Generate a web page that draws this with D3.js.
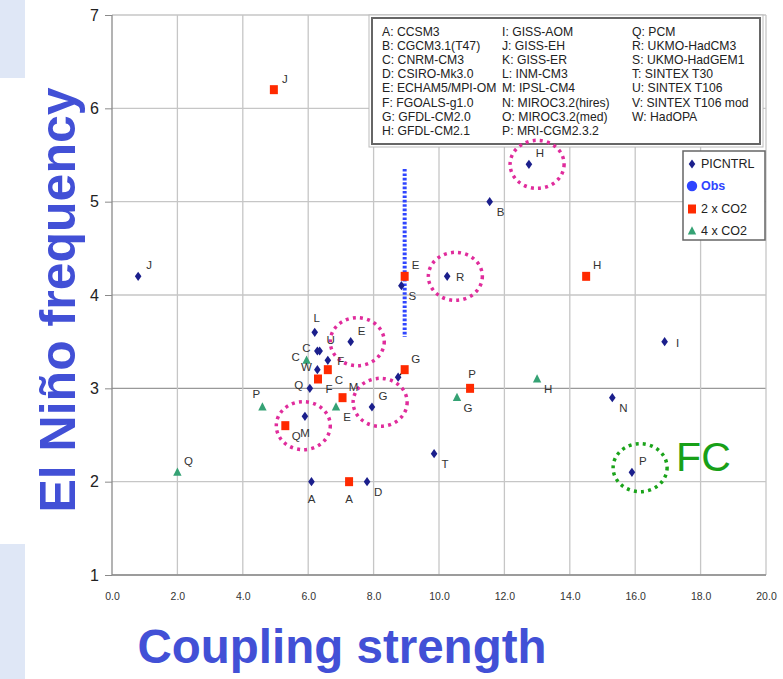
<!DOCTYPE html>
<html lang="en">
<head>
<meta charset="UTF-8">
<title>El Niño frequency vs coupling strength</title>
<script src="https://cdn.jsdelivr.net/npm/d3@7"></script>
<style>
  body { margin: 0; background: #fff; }
  svg { display: block; font-family: "Liberation Sans", Arial, sans-serif; }
</style>
</head>
<body>
<script>
// PICNTRL runs (blue diamonds)
const ctrlLabels = ["J","H","B","S","R","I","N","P","T","D","A","L","C","U","F","W","Q","E","M","G",""];
const ctrlX = [0.8,12.75,11.55,8.85,10.25,16.9,15.3,15.9,9.85,7.8,6.1,6.2,6.28,6.35,6.6,6.28,6.05,7.3,5.9,7.95,8.75];
const ctrlY = [4.2,5.4,5.0,4.1,4.2,3.5,2.9,2.1,2.3,2.0,2.0,3.6,3.4,3.4,3.3,3.2,3.0,3.5,2.7,2.8,3.12];
const ctrlLabelAt = ["ne","ne","se","se","e","e","se","ne","se","se","s","n","w","ne","e","w","w","ne","s","ne",""];

// 2 x CO2 runs (red squares)
const co2Labels = ["J","H","E","G","P","C","F","M","Q","A"];
const co2X = [4.95,14.5,8.95,8.95,10.95,6.6,6.3,7.05,5.3,7.25];
const co2Y = [6.2,4.2,4.2,3.2,3.0,3.2,3.1,2.9,2.6,2.0];
const co2LabelAt = ["ne","ne","ne","ne","n","se","se","ne","se","s"];

// 4 x CO2 runs (green triangles)
const co4Labels = ["Q","P","C","E","G","H"];
const co4X = [2.0,4.6,5.95,6.85,10.55,13.0];
const co4Y = [2.1,2.8,3.3,2.8,2.9,3.1];
const co4LabelAt = ["ne","nw","w","se","se","se"];

// observed range
const obsX = 8.95;
const obsRange = [3.55, 5.35];

// circled models
const ringX = [13.0, 10.5, 7.5, 8.2, 5.85];
const ringY = [5.4, 4.2, 3.5, 2.85, 2.6];
const fcRing = [16.15, 2.15];

const yTicks = [1,2,3,4,5,6,7];
const xTicks = [0,2,4,6,8,10,12,14,16,18,20];

const modelKey = [
  ["A: CCSM3","B: CGCM3.1(T47)","C: CNRM-CM3","D: CSIRO-Mk3.0","E: ECHAM5/MPI-OM","F: FGOALS-g1.0","G: GFDL-CM2.0","H: GFDL-CM2.1"],
  ["I: GISS-AOM","J: GISS-EH","K: GISS-ER","L: INM-CM3","M: IPSL-CM4","N: MIROC3.2(hires)","O: MIROC3.2(med)","P: MRI-CGM2.3.2"],
  ["Q: PCM","R: UKMO-HadCM3","S: UKMO-HadGEM1","T: SINTEX T30","U: SINTEX T106","V: SINTEX T106 mod","W: HadOPA"]
];

const width = 783, height = 679;
const blue = "#4250d6", navy = "#1b1f8c", red = "#ff2a00", green = "#35a274", pink = "#e02c9c";

const svg = d3.select("body").append("svg")
    .attr("width", width)
    .attr("height", height);

const x = d3.scaleLinear().domain([0, 20]).range([112, 766]);
const y = d3.scaleLinear().domain([1, 7]).range([575, 15]);

// left slide strip
svg.append("rect").attr("x", 0).attr("y", 0).attr("width", 25).attr("height", height).attr("fill", "#dfe7f6");
svg.append("rect").attr("x", 0).attr("y", 78).attr("width", 82).attr("height", 466).attr("fill", "#fff");

// grid
svg.append("g").selectAll("line").data(yTicks).join("line")
    .attr("x1", x(0)).attr("x2", x(20))
    .attr("y1", d => y(d)).attr("y2", d => y(d))
    .attr("stroke", d => d === 3 ? "#999" : "#c6c6c6")
    .attr("stroke-width", 1.3);
svg.append("g").selectAll("line").data(xTicks).join("line")
    .attr("x1", d => x(d)).attr("x2", d => x(d))
    .attr("y1", y(7)).attr("y2", y(1))
    .attr("stroke", d => d === 0 ? "#8a8a8a" : "#c6c6c6")
    .attr("stroke-width", 1.3);
svg.append("line")
    .attr("x1", x(0)).attr("x2", x(20)).attr("y1", y(1)).attr("y2", y(1))
    .attr("stroke", "#8a8a8a").attr("stroke-width", 1.3);

// axes
const yAxis = svg.append("g")
    .attr("transform", `translate(${x(0)},0)`)
    .call(d3.axisLeft(y).tickValues(yTicks).tickSize(7).tickPadding(6).tickFormat(d3.format("d")));
yAxis.select(".domain").remove();
yAxis.selectAll("line").attr("stroke", "#8a8a8a");
yAxis.selectAll("text").attr("font-size", 16).attr("fill", "#222")
    .attr("font-family", "Liberation Sans, Arial, sans-serif");

const xAxis = svg.append("g")
    .attr("transform", `translate(0,${y(1)})`)
    .call(d3.axisBottom(x).tickValues(xTicks).tickSize(0).tickPadding(18).tickFormat(d3.format(".1f")));
xAxis.select(".domain").remove();
xAxis.selectAll("text").attr("font-size", 10.5).attr("fill", "#333")
    .attr("font-family", "Liberation Sans Narrow, Arial Narrow, sans-serif");

// axis titles
svg.append("text")
    .attr("transform", "translate(75,300) rotate(-90)")
    .attr("text-anchor", "middle")
    .attr("font-size", 50).attr("font-weight", "bold").attr("fill", blue)
    .text("El Niño frequency");
svg.append("text")
    .attr("x", 342).attr("y", 663)
    .attr("text-anchor", "middle")
    .attr("font-size", 47.5).attr("font-weight", "bold").attr("fill", blue)
    .text("Coupling strength");

// model key box
const key = svg.append("g");
key.append("rect").attr("x", 369).attr("y", 15).attr("width", 394).attr("height", 132)
    .attr("fill", "#fff").attr("stroke", "#bbb").attr("stroke-width", 1);
key.append("rect").attr("x", 372).attr("y", 18).attr("width", 388).attr("height", 126)
    .attr("fill", "#fff").attr("stroke", "#666").attr("stroke-width", 2);
const colX = [382, 502, 632];
modelKey.forEach((col, ci) => {
  key.append("g").selectAll("text").data(col).join("text")
      .attr("x", colX[ci])
      .attr("y", (d, i) => 36 + i * 14.1)
      .attr("font-size", 12.2).attr("fill", "#222")
      .text(d => d);
});

// observed range
svg.append("line")
    .attr("x1", x(obsX)).attr("x2", x(obsX))
    .attr("y1", y(obsRange[1])).attr("y2", y(obsRange[0]))
    .attr("stroke", "#2f45ff").attr("stroke-width", 4)
    .attr("stroke-dasharray", "2.6,1.8");

// highlight rings
svg.append("g").selectAll("ellipse").data(ringX).join("ellipse")
    .attr("cx", d => x(d)).attr("cy", (d, i) => y(ringY[i]))
    .attr("rx", 27).attr("ry", 24)
    .attr("fill", "none").attr("stroke", pink).attr("stroke-width", 3.5)
    .attr("stroke-dasharray", "3,4.2");
svg.append("ellipse")
    .attr("cx", x(fcRing[0])).attr("cy", y(fcRing[1]))
    .attr("rx", 27).attr("ry", 24)
    .attr("fill", "none").attr("stroke", "#1aa31a").attr("stroke-width", 3.5)
    .attr("stroke-dasharray", "3,4.2");
svg.append("text")
    .attr("x", x(fcRing[0]) + 36).attr("y", y(fcRing[1]) + 3)
    .attr("font-size", 41).attr("fill", "#18a018")
    .text("FC");

// short link between the unlabeled control run and G 2xCO2
svg.append("line")
    .attr("x1", x(ctrlX[20])).attr("y1", y(ctrlY[20]))
    .attr("x2", x(co2X[3])).attr("y2", y(co2Y[3]))
    .attr("stroke", "#111").attr("stroke-width", 1.2);

// markers
const diamond = "M0,-4.6L3.3,0L0,4.6L-3.3,0Z";
const tri = "M0,-4.8L4.2,3.4L-4.2,3.4Z";
const off = {ne: [11, -11], e: [13, 1], se: [11, 10], s: [0, 17], n: [2, -14], nw: [-6, -13], w: [-11, -3]};

function series(xs, ys, labels, at, draw) {
  const g = svg.append("g");
  draw(g.selectAll("path").data(xs).join("path"), xs, ys);
  g.selectAll("text").data(labels).join("text")
      .attr("x", (d, i) => x(xs[i]) + (off[at[i]] || [0, 0])[0])
      .attr("y", (d, i) => y(ys[i]) + (off[at[i]] || [0, 0])[1])
      .attr("text-anchor", "middle").attr("dominant-baseline", "central")
      .attr("font-size", 11.5).attr("fill", "#333")
      .text(d => d);
}

series(co4X, co4Y, co4Labels, co4LabelAt, (sel, xs, ys) => sel
    .attr("d", tri).attr("fill", green)
    .attr("transform", (d, i) => `translate(${x(xs[i])},${y(ys[i])})`));
series(co2X, co2Y, co2Labels, co2LabelAt, (sel, xs, ys) => sel
    .attr("d", "M-4,-4.5H4V4.5H-4Z").attr("fill", red)
    .attr("transform", (d, i) => `translate(${x(xs[i])},${y(ys[i])})`));
series(ctrlX, ctrlY, ctrlLabels, ctrlLabelAt, (sel, xs, ys) => sel
    .attr("d", diamond).attr("fill", navy)
    .attr("transform", (d, i) => `translate(${x(xs[i])},${y(ys[i])})`));

// series legend
const leg = svg.append("g");
leg.append("rect").attr("x", 683).attr("y", 151).attr("width", 82).attr("height", 89)
    .attr("fill", "#fff").attr("stroke", "#666").attr("stroke-width", 1.5);
const legItems = ["PICNTRL", "Obs", "2 x CO2", "4 x CO2"];
const legY = [164, 186, 209, 231];
leg.selectAll("text").data(legItems).join("text")
    .attr("x", 701).attr("y", (d, i) => legY[i])
    .attr("dominant-baseline", "central")
    .attr("font-size", 12.5)
    .attr("font-weight", d => d === "Obs" ? "bold" : "normal")
    .attr("fill", d => d === "Obs" ? "#2f45ff" : "#222")
    .text(d => d);
leg.append("path").attr("d", diamond).attr("fill", navy).attr("transform", `translate(692,${legY[0]})`);
leg.append("circle").attr("cx", 692).attr("cy", legY[1]).attr("r", 5.2).attr("fill", "#2f45ff");
leg.append("path").attr("d", "M-4,-4.5H4V4.5H-4Z").attr("fill", red).attr("transform", `translate(692,${legY[2]})`);
leg.append("path").attr("d", tri).attr("fill", green).attr("transform", `translate(692,${legY[3]})`);
</script>
</body>
</html>
